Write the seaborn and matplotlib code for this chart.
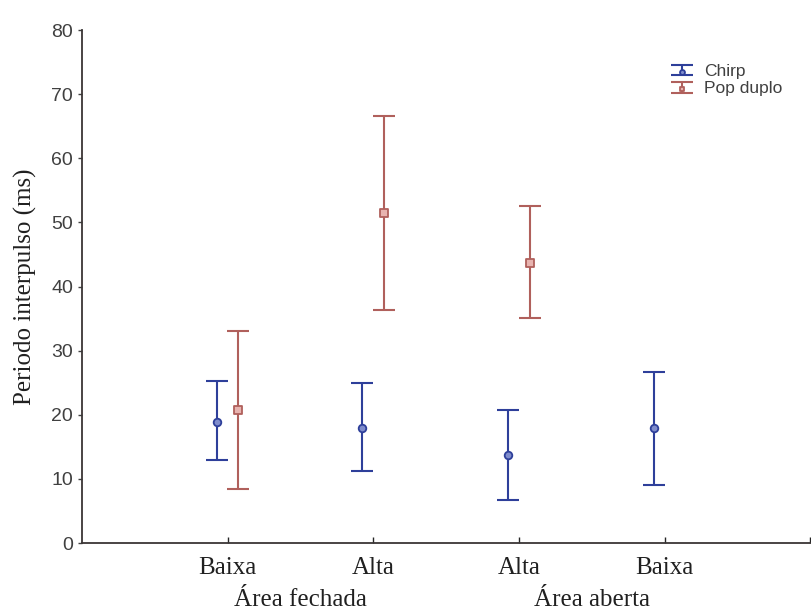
import numpy as np
import pandas as pd
import seaborn as sns
import matplotlib.pyplot as plt
from matplotlib.container import ErrorbarContainer
from matplotlib.legend_handler import HandlerErrorbar

# Means and interval limits of the interpulse period (ms)
groups = ["Baixa", "Alta", "Alta", "Baixa"]
areas = ["Área fechada", "Área aberta"]

chirp_mean = [18.9, 17.9, 13.7, 17.9]
chirp_low = [12.9, 11.2, 6.7, 9.0]
chirp_high = [25.3, 25.0, 20.7, 26.7]

pop_pos = [0, 1, 2]
pop_mean = [20.7, 51.5, 43.7]
pop_low = [8.4, 36.3, 35.1]
pop_high = [33.1, 66.6, 52.6]

sns.set_theme(style="white")
plt.rcParams["font.family"] = ["Liberation Sans", "DejaVu Sans"]

fig = plt.figure(figsize=(8.11, 6.14), dpi=100)
ax = fig.add_axes([0.101, 0.1156, 0.898, 0.8354])

blue = "#2e3f9a"
red = "#b0605c"
dodge = 0.075

chirp = pd.DataFrame({
    "x": np.arange(len(chirp_mean)) - dodge,
    "mean": chirp_mean, "low": chirp_low, "high": chirp_high,
})
pop = pd.DataFrame({
    "x": np.array(pop_pos) + dodge,
    "mean": pop_mean, "low": pop_low, "high": pop_high,
})

handles, labels = [], []
for df, color, label, marker, face in [
    (chirp, blue, "Chirp", "o", "#7f8ccc"),
    (pop, red, "Pop duplo", "s", "#e8b4b0"),
]:
    err = np.vstack([df["mean"] - df["low"], df["high"] - df["mean"]])
    eb = ax.errorbar(df["x"], df["mean"], yerr=err, fmt="none", ecolor=color,
                     elinewidth=1.5, capsize=8, capthick=1.5)
    n_before = len(ax.collections)
    sns.scatterplot(data=df, x="x", y="mean", ax=ax, marker=marker, s=30,
                    color=face, edgecolor=color, linewidth=1.3, legend=False,
                    zorder=3)
    pts = ax.collections[n_before]
    handles.append((eb, pts))
    labels.append(label)

ax.set_xlim(-1, 4)
ax.set_ylim(0, 80)
ax.set_xticks([0, 1, 2, 3, 4])
ax.set_xticklabels(groups + [""], family="Liberation Serif", fontsize=18,
                   color="#202020")
ax.set_yticks(range(0, 81, 10))
ax.tick_params(axis="y", labelsize=14, colors="#404040", length=3,
               direction="out", width=1, left=True)
ax.tick_params(axis="x", length=4, direction="in", width=1, bottom=True,
               pad=10, labelcolor="#202020")
ax.set_xlabel("")
ax.set_ylabel("Periodo interpulso (ms)", family="Liberation Serif",
              fontsize=18, color="#202020", labelpad=10)

for s in ["top", "right"]:
    ax.spines[s].set_visible(False)
for s in ["left", "bottom"]:
    ax.spines[s].set_color("#3a3535")
    ax.spines[s].set_linewidth(1.3)

for xc, name in zip([0.5, 2.5], areas):
    ax.text(xc, -0.112, name, transform=ax.get_xaxis_transform(),
            ha="center", va="center", family="Liberation Serif",
            fontsize=18, color="#202020")

ax.legend(handles, labels, loc="upper left", bbox_to_anchor=(0.79, 0.965),
          frameon=False, fontsize=12.5, labelspacing=0.15,
          handlelength=1.0, handleheight=0.6, handletextpad=0.8,
          markerscale=0.65, labelcolor="#404040",
          handler_map={ErrorbarContainer: HandlerErrorbar(xerr_size=0.4,
                                                          yerr_size=0.3)})

fig.savefig("out.png", dpi=100, facecolor="white")
